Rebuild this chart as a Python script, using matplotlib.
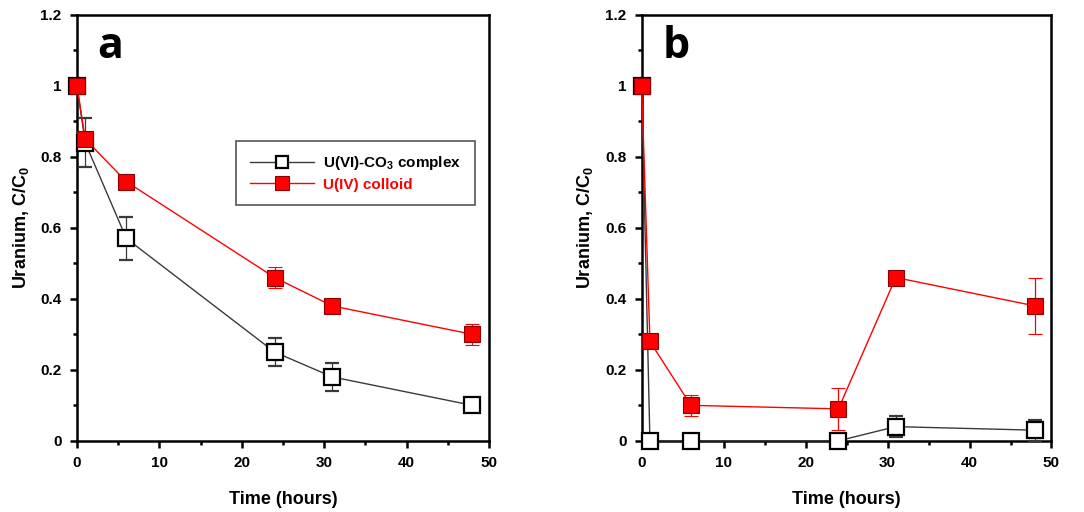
import matplotlib
matplotlib.use("Agg")
import matplotlib.pyplot as plt
from matplotlib.lines import Line2D
from matplotlib.ticker import MultipleLocator

plt.rcParams['font.family'] = ['Liberation Sans', 'DejaVu Sans']
plt.rcParams['mathtext.fontset'] = 'custom'
plt.rcParams['mathtext.rm'] = 'Liberation Sans:bold'
plt.rcParams['mathtext.bf'] = 'Liberation Sans:bold'

# time points (hours)
time = [0, 1, 6, 24, 31, 48]

# panel a
a_u6 = [1.0, 0.84, 0.57, 0.25, 0.18, 0.10]
a_u6_err = [0, 0.07, 0.06, 0.04, 0.04, 0.0]
a_u4 = [1.0, 0.85, 0.73, 0.46, 0.38, 0.30]
a_u4_err = [0, 0.02, 0.0, 0.03, 0.0, 0.03]

# panel b
b_u6 = [1.0, 0.0, 0.0, 0.0, 0.04, 0.03]
b_u6_err = [0, 0, 0, 0, 0.03, 0.03]
b_u4 = [1.0, 0.28, 0.10, 0.09, 0.46, 0.38]
b_u4_err = [0, 0, 0.03, 0.06, 0, 0.08]

panels = [
    ("a", a_u6, a_u6_err, a_u4, a_u4_err),
    ("b", b_u6, b_u6_err, b_u4, b_u4_err),
]

u6_style = dict(color='#3a3a3a', lw=1.0, marker='s', mfc='white', mec='black', mew=1.6)
u4_style = dict(color='red', lw=1.0, marker='s', mfc='red', mec='#8b0000', mew=0.8)

fig = plt.figure(figsize=(10.84, 5.12), dpi=100)
positions = [[0.071, 0.139, 0.380, 0.832], [0.592, 0.139, 0.378, 0.832]]

for pos, (tag, u6, u6e, u4, u4e) in zip(positions, panels):
    ax = fig.add_axes(pos)
    ax.errorbar(time, u6, yerr=u6e, ms=11, ecolor='#3a3a3a', elinewidth=0.9,
                capsize=5, capthick=0.9, zorder=3, clip_on=False, **u6_style)
    ax.errorbar(time, u4, yerr=u4e, ms=12, ecolor='red', elinewidth=0.9,
                capsize=5, capthick=0.9, zorder=4, clip_on=False, **u4_style)
    ax.set_xlim(0, 50)
    ax.set_ylim(0, 1.2)
    ax.xaxis.set_major_locator(MultipleLocator(10))
    ax.xaxis.set_minor_locator(MultipleLocator(5))
    ax.yaxis.set_minor_locator(MultipleLocator(0.1))
    ax.set_yticks([0, 0.2, 0.4, 0.6, 0.8, 1.0, 1.2])
    ax.set_yticklabels(['0', '0.2', '0.4', '0.6', '0.8', '1', '1.2'])
    ax.tick_params(which='major', direction='out', length=5, width=1.8,
                   labelsize=11, pad=6)
    ax.tick_params(which='minor', direction='out', length=3, width=1.8)
    for lbl in ax.get_xticklabels() + ax.get_yticklabels():
        lbl.set_fontweight('bold')
    for sp in ax.spines.values():
        sp.set_linewidth(1.8)
    ax.set_xlabel('Time (hours)', fontsize=13, fontweight='bold', labelpad=15)
    ax.set_ylabel(r'Uranium, C/C$_0$', fontsize=13, fontweight='bold', labelpad=7)
    ax.text(0.05, 0.925, tag, transform=ax.transAxes, fontsize=31,
            fontweight='bold', family=['Open Sans', 'DejaVu Sans'], va='center', ha='left')
    if tag == 'a':
        handles = [Line2D([], [], ms=9, **u6_style), Line2D([], [], ms=10, **u4_style)]
        labels = [r'U(VI)-CO$_3$ complex', 'U(IV) colloid']
        leg = ax.legend(handles, labels, loc='upper left', bbox_to_anchor=(0.387, 0.705),
                        fancybox=False, edgecolor='#555555', framealpha=1,
                        prop={'weight': 'bold', 'size': 11}, handlelength=4.2,
                        borderpad=0.9, labelspacing=0.35,
                        handletextpad=0.6, borderaxespad=0)
        leg.get_frame().set_linewidth(1.2)
        leg.get_texts()[0].set_color('black')
        leg.get_texts()[1].set_color('red')

fig.savefig('out.png', dpi=100)
